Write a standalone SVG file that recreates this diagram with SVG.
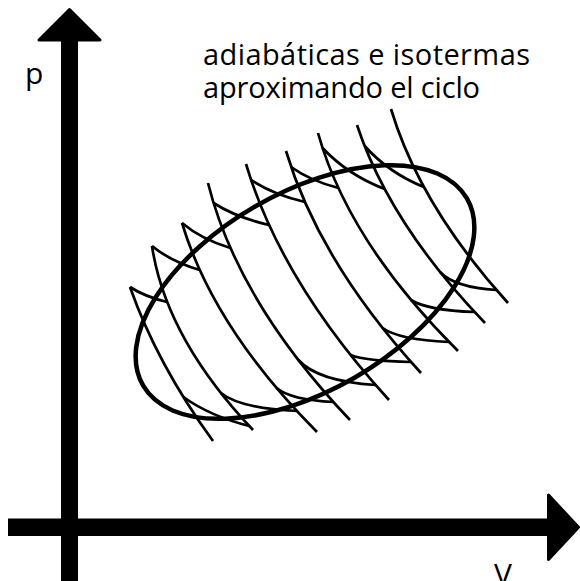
<svg xmlns="http://www.w3.org/2000/svg" width="580" height="581" viewBox="0 0 580 581">
<style>
.lbl{font-family:"Open Sans","DejaVu Sans",sans-serif;font-size:30px;fill:#000}
.ttl{font-family:"Open Sans","DejaVu Sans",sans-serif;font-size:29px;fill:#000}
.ad{fill:none;stroke:#000;stroke-width:2.7;stroke-linecap:butt}
.iso{fill:none;stroke:#000;stroke-width:2.7;stroke-linecap:butt}
.cyc{fill:none;stroke:#000;stroke-width:4.5}
.ax{fill:#000;stroke:#000;stroke-width:3;stroke-linejoin:round}
</style>
<rect width="580" height="581" fill="#fff"/>
<g id="axis-p">
<rect x="61" y="38" width="17" height="543" fill="#000"/>
<polygon class="ax" points="69.5,9.5 100,40 39,40"/>
</g>
<g id="axis-v">
<rect x="8" y="518.5" width="542" height="17.5" fill="#000"/>
<polygon class="ax" points="578.5,527.3 548.5,495 548.5,559.5"/>
</g>
<g id="label-p"><text class="lbl" x="25" y="84">p</text></g>
<g id="label-v"><text class="lbl" x="494" y="585">V</text></g>
<g id="title">
<text class="ttl" x="203" y="65" textLength="327" lengthAdjust="spacing">adiabáticas e isotermas</text>
<text class="ttl" x="203" y="98" textLength="277" lengthAdjust="spacing">aproximando el ciclo</text>
</g>
<g id="cycle">
<ellipse class="cyc" cx="305" cy="292" rx="187" ry="99" transform="rotate(-30 305 292)"/>
</g>
<g id="adiabats">
<path class="ad" d="M130 287 Q157 364 213 441"/>
<path class="ad" d="M152 246 Q165.8 338 253 430"/>
<path class="ad" d="M182 223 Q213.4 327.5 317 432"/>
<path class="ad" d="M208 183 Q237.6 301.5 350 420"/>
<path class="ad" d="M246 164 Q281.4 282 389 400"/>
<path class="ad" d="M286 151 Q319.3 262 421 373"/>
<path class="ad" d="M318 133 Q348.5 242 458 351"/>
<path class="ad" d="M357 125 Q389.7 224 485 323"/>
<path class="ad" d="M391 109 Q420.1 206 508 303"/>
</g>
<g id="isotherms">
<path class="iso" d="M130 287 Q144.9 296.8 167.2 302"/>
<path class="iso" d="M152 246 Q171.1 261.6 199.7 270"/>
<path class="iso" d="M182 223 Q201.4 239.3 230.4 248"/>
<path class="iso" d="M213.6 203 Q235.8 217.3 269.2 225"/>
<path class="iso" d="M251.2 180 Q272.7 194.3 304.9 202"/>
<path class="iso" d="M291.1 167 Q310.1 180.7 338.5 188"/>
<path class="iso" d="M322.6 148 Q347.4 174.7 384.7 189"/>
<path class="iso" d="M364.7 146 Q388.4 172.7 423.9 187"/>
<path class="iso" d="M183.4 397 Q209.7 415.9 249.2 426"/>
<path class="iso" d="M220.9 393 Q239.9 408.3 296.9 411"/>
<path class="iso" d="M276.6 388 Q290.8 399.9 333.4 402"/>
<path class="iso" d="M298.4 360 Q317.7 381.3 375.6 385"/>
<path class="iso" d="M350.6 355 Q365.7 361 411 362"/>
<path class="iso" d="M382.6 328 Q399.2 339.9 449 342"/>
<path class="iso" d="M411 300 Q426.9 310.2 474.6 312"/>
<path class="iso" d="M440.1 272 Q454.2 287.3 496.5 290"/>
</g>
</svg>
